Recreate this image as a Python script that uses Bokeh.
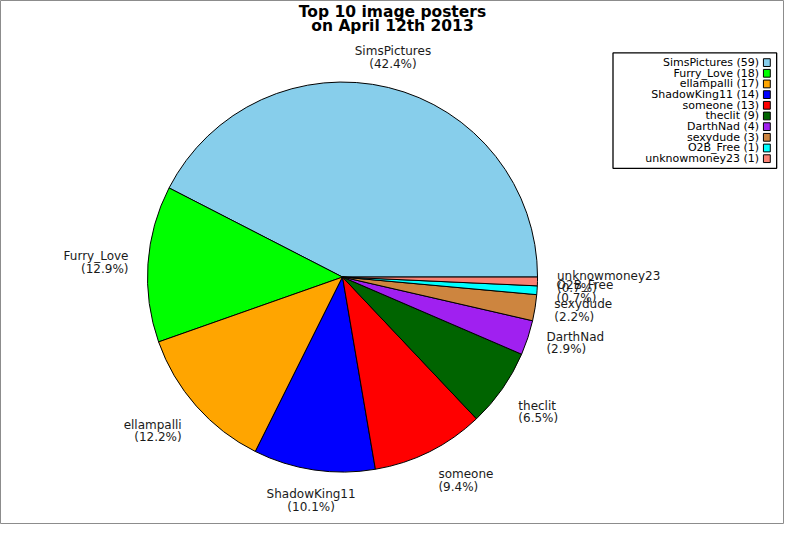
import math

from bokeh.core.properties import value
from bokeh.embed import file_html
from bokeh.models import ColumnDataSource, Range1d
from bokeh.plotting import figure
from bokeh.resources import INLINE

# data
names = ["SimsPictures", "Furry_Love", "ellampalli", "ShadowKing11", "someone",
         "theclit", "DarthNad", "sexydude", "O2B_Free", "unknowmoney23"]
counts = [59, 18, 17, 14, 13, 9, 4, 3, 1, 1]
colors = ["#87CEEB", "#00FF00", "#FFA500", "#0000FF", "#FF0000",
          "#006400", "#A020F0", "#CD853F", "#00FFFF", "#FA8072"]
title_text = "Top 10 image posters\non April 12th 2013"

# page geometry: data units are the reference's pixels, y flipped so the
# angles keep running counter-clockwise
W, H = 800, 540
cx, cy, r = 349, H - 285, 199
FONT = value("DejaVu Sans")

total = float(sum(counts))
starts, ends, mids = [], [], []
a = 0.0
for c in counts:
    span = 2 * math.pi * c / total
    starts.append(a)
    ends.append(a + span)
    mids.append(a + span / 2)
    a += span

pie = ColumnDataSource(data=dict(start=starts, end=ends, color=colors, name=names))

# slice labels at 1.1 r, aligned by where they sit around the pie
lx, ly, ltext, lalign, lbase = [], [], [], [], []
for n, c, m in zip(names, counts, mids):
    ca, sa = math.cos(m), math.sin(m)
    lx.append(cx + 1.1 * r * ca)
    ly.append(cy + 1.1 * r * sa)
    ltext.append("%s\n(%.1f%%)" % (n, 100.0 * c / total))
    if abs(ca) < 0.3:
        lalign.append("center")
    else:
        lalign.append("left" if ca > 0 else "right")
    if abs(sa) < 0.4:
        lbase.append("middle")
    else:
        lbase.append("bottom" if sa > 0 else "top")
labels = ColumnDataSource(data=dict(x=lx, y=ly, text=ltext, align=lalign, base=lbase))

p = figure(width=784, height=524, x_range=Range1d(0, W), y_range=Range1d(0, H),
           output_backend="svg", toolbar_location=None, min_border=0)
p.axis.visible = False
p.grid.visible = False
p.outline_line_color = "#8c8c8c"
p.background_fill_color = "white"
p.border_fill_color = "white"

p.wedge(x=cx, y=cy, radius=r, start_angle="start", end_angle="end", source=pie,
        fill_color="color", line_color="black", line_width=1)

p.text(x="x", y="y", text="text", source=labels, text_align="align",
       text_baseline="base", text_font=FONT, text_font_size="12px",
       text_line_height=0.9, text_color="#1a1a1a")

# title
p.text(x=[400], y=[H - 19], text=[title_text], text_align="center",
       text_baseline="middle", text_font=FONT, text_font_size="15.5px",
       text_font_style="bold", text_line_height=0.82, text_color="black")

# legend, drawn by hand: text right-aligned, swatch on the right
p.quad(left=[625], right=[792], top=[H - 54], bottom=[H - 173],
       fill_color="white", line_color="black", line_width=1.3)
leg_y = [H - (64 + 11 * i) for i in range(len(names))]
leg_text = ["%s (%d)" % (n, c) for n, c in zip(names, counts)]
p.rect(x=782, y=leg_y, width=7, height=8, fill_color=colors, line_color="black",
       line_width=1)
p.text(x=774, y=leg_y, text=leg_text, text_align="right", text_baseline="middle",
       text_font=FONT, text_font_size="11px", text_color="black")

open("out.html", "w").write(file_html(p, INLINE))
